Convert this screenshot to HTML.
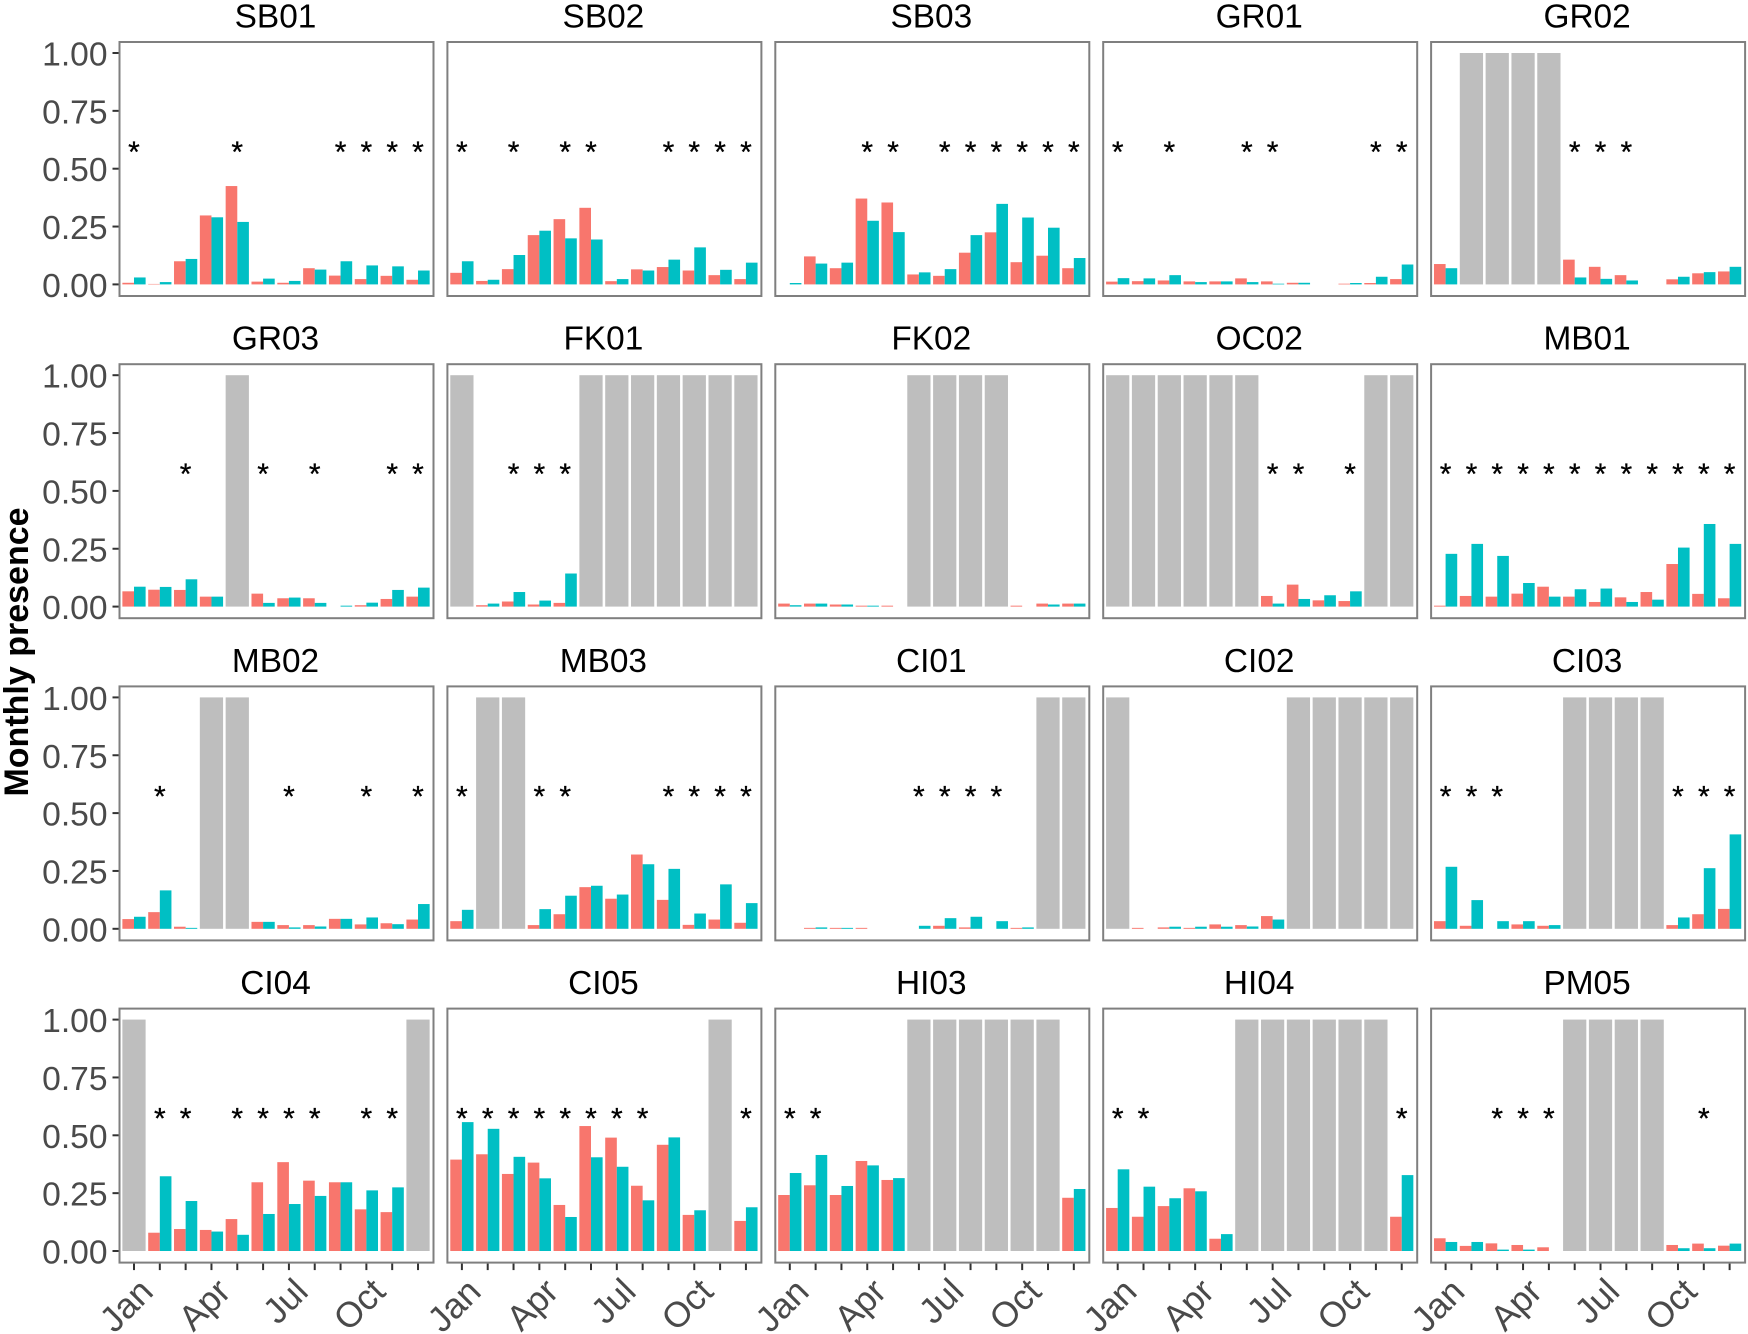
<!DOCTYPE html>
<html lang="en">
<head>
<meta charset="utf-8">
<title>Monthly presence by site</title>
<style>
html,body{margin:0;padding:0;background:#fff;}
svg{display:block;}
text{font-family:"Liberation Sans",sans-serif;}
</style>
</head>
<body>
<svg id="chart" xmlns="http://www.w3.org/2000/svg" width="1748" height="1334" viewBox="0 0 1748 1334">
<rect x="0" y="0" width="1748" height="1334" fill="#ffffff"/>
<text transform="translate(28,652) rotate(-90)" text-anchor="middle" font-size="34" font-weight="bold" fill="#000000">Monthly presence</text>
</svg>
<script>
const sites = ["SB01","SB02","SB03","GR01","GR02","GR03","FK01","FK02","OC02","MB01","MB02","MB03","CI01","CI02","CI03","CI04","CI05","HI03","HI04","PM05"];
const months = ["Jan","Feb","Mar","Apr","May","Jun","Jul","Aug","Sep","Oct","Nov","Dec"];
const xTickLabels = ["Jan","","","Apr","","","Jul","","","Oct","",""];
const yTicks = [0,0.25,0.5,0.75,1];
const yTickLabels = ["0.00","0.25","0.50","0.75","1.00"];
const grayValue = 1;
const starValue = 0.59;

const redSeries = [
[.007,.002,.10,.298,.425,.012,.007,.07,.038,.023,.037,.02],
[.05,.015,.066,.213,.282,.331,.014,.065,.075,.06,.04,.023],
[0,.121,.07,.371,.354,.043,.037,.137,.225,.096,.124,.07],
[.012,.014,.017,.013,.013,.026,.013,.007,0,.003,.006,.023],
[.088,0,0,0,0,.107,.076,.04,0,.022,.048,.056],
[.066,.073,.072,.043,0,.056,.036,.036,0,.006,.033,.043],
[0,.006,.022,.009,.016,0,0,0,0,0,0,0],
[.013,.013,.009,.004,.004,0,0,0,0,.004,.013,.013],
[0,0,0,0,0,0,.046,.095,.027,.024,0,0],
[.004,.046,.043,.056,.086,.043,.02,.04,.063,.184,.055,.036],
[.042,.072,.009,0,0,.03,.016,.016,.043,.019,.024,.04],
[.033,0,0,.016,.063,.18,.13,.321,.125,.017,.04,.026],
[0,.004,.004,.004,0,0,.013,.006,0,.004,0,0],
[0,.004,.006,.004,.019,.016,.055,0,0,0,0,0],
[.033,.013,0,.019,.013,0,0,0,0,.016,.063,.086],
[0,.079,.095,.091,.138,.297,.384,.304,.297,.18,.168,0],
[.395,.418,.333,.382,.199,.54,.49,.282,.459,.156,0,.13],
[.242,.284,.242,.389,.307,0,0,0,0,0,0,.23],
[.186,.148,.194,.271,.053,0,0,0,0,0,0,.148],
[.055,.022,.033,.026,.016,0,0,0,0,.026,.032,.023]
];
const tealSeries = [
[.03,.01,.11,.29,.27,.025,.015,.064,.10,.082,.078,.06],
[.10,.02,.127,.232,.199,.194,.023,.06,.107,.16,.063,.094],
[.006,.09,.094,.275,.226,.052,.066,.213,.348,.289,.245,.114],
[.027,.026,.04,.01,.013,.01,.003,.007,0,.006,.033,.086],
[.07,0,0,0,0,.03,.024,.017,0,.033,.053,.076],
[.086,.085,.118,.043,0,.016,.039,.016,.004,.017,.072,.082],
[0,.013,.063,.026,.143,0,0,0,0,0,0,0],
[.006,.013,.009,.004,0,0,0,0,0,0,.009,.013],
[0,0,0,0,0,0,.013,.033,.049,.066,0,0],
[.228,.271,.219,.102,.043,.075,.078,.02,.03,.255,.357,.271],
[.052,.166,.004,0,0,.03,.006,.01,.043,.049,.02,.107],
[.082,0,0,.085,.143,.186,.148,.279,.259,.066,.192,.111],
[0,.006,.004,0,0,.013,.046,.052,.033,.006,0,0],
[0,0,.009,.009,.009,.01,.04,0,0,0,0,0],
[.268,.124,.033,.033,.016,0,0,0,0,.049,.262,.408],
[0,.323,.216,.084,.07,.16,.203,.238,.297,.262,.275,0],
[.557,.528,.407,.314,.147,.405,.364,.219,.491,.176,0,.189],
[.337,.415,.281,.37,.315,0,0,0,0,0,0,.268],
[.353,.278,.228,.258,.073,0,0,0,0,0,0,.328],
[.039,.039,.006,.006,0,0,0,0,0,.012,.012,.032]
];
const grayMonths = [
[],[],[],[],["Feb","Mar","Apr","May"],
["May"],["Jan","Jun","Jul","Aug","Sep","Oct","Nov","Dec"],["Jun","Jul","Aug","Sep"],["Jan","Feb","Mar","Apr","May","Jun","Nov","Dec"],[],
["Apr","May"],["Feb","Mar"],["Nov","Dec"],["Jan","Aug","Sep","Oct","Nov","Dec"],["Jun","Jul","Aug","Sep"],
["Jan","Dec"],["Nov"],["Jun","Jul","Aug","Sep","Oct","Nov"],["Jun","Jul","Aug","Sep","Oct","Nov"],["Jun","Jul","Aug","Sep"]
];
const starMonths = [
["Jan","May","Sep","Oct","Nov","Dec"],
["Jan","Mar","May","Jun","Sep","Oct","Nov","Dec"],
["Apr","May","Jul","Aug","Sep","Oct","Nov","Dec"],
["Jan","Mar","Jun","Jul","Nov","Dec"],
["Jun","Jul","Aug"],
["Mar","Jun","Aug","Nov","Dec"],
["Mar","Apr","May"],
[],
["Jul","Aug","Oct"],
["Jan","Feb","Mar","Apr","May","Jun","Jul","Aug","Sep","Oct","Nov","Dec"],
["Feb","Jul","Oct","Dec"],
["Jan","Apr","May","Sep","Oct","Nov","Dec"],
["Jun","Jul","Aug","Sep"],
[],
["Jan","Feb","Mar","Oct","Nov","Dec"],
["Feb","Mar","May","Jun","Jul","Aug","Oct","Nov"],
["Jan","Feb","Mar","Apr","May","Jun","Jul","Aug","Dec"],
["Jan","Feb"],
["Jan","Feb","Dec"],
["Mar","Apr","May","Nov"]
];

const svg = document.getElementById('chart');
const NS = 'http://www.w3.org/2000/svg';
const panelW = 314, panelH = 254, unit = 25.82, xPad = 14.5, yScale = 231.4, barFrac = 0.9;
const RED = '#F8766D', TEAL = '#00BFC4', GRAY = '#BEBEBE';

function make(tag, attrs, parent){
  const el = document.createElementNS(NS, tag);
  for(const k in attrs){ el.setAttribute(k, attrs[k]); }
  (parent || svg).appendChild(el);
  return el;
}
function panelLeft(col){ return 119.5 + col * 327.9; }
function baseline(row){ return 284.4 + row * 322.2; }
function xScale(col, monthIndex){ return panelLeft(col) + xPad + monthIndex * unit; }
function yAxis(row, v){ return baseline(row) - v * yScale; }

sites.forEach(function(site, i){
  const col = i % 5, row = Math.floor(i / 5);
  const left = panelLeft(col), y0 = baseline(row);
  const top = y0 - 242.4;

  const g = make('g', {});
  
  

  const title = make('text', {x: left + panelW / 2 - 1, y: top - 14.5, 'text-anchor': 'middle', 'font-size': 33.4, fill: '#000000'}, g);
  title.textContent = site;
  
  

  const bg = make('rect', {x: left, y: top, width: panelW, height: panelH, fill: '#ffffff'}, g);
  
  

  months.forEach(function(m, k){
    const cx = xScale(col, k), w = unit * barFrac;
    if(grayMonths[i].indexOf(m) >= 0){
      const gb = make('rect', {x: cx - w / 2, y: yAxis(row, grayValue), width: w, height: y0 - yAxis(row, grayValue), fill: GRAY}, g);
      
      
      return;
    }
    const rv = redSeries[i][k], tv = tealSeries[i][k];
    const rb = make('rect', {x: cx - w / 2, y: yAxis(row, rv), width: w / 2, height: y0 - yAxis(row, rv), fill: RED}, g);
    
    
    const tb = make('rect', {x: cx, y: yAxis(row, tv), width: w / 2, height: y0 - yAxis(row, tv), fill: TEAL}, g);
    
    
  });

  starMonths[i].forEach(function(m){
    const k = months.indexOf(m);
    const s = make('text', {x: xScale(col, k), y: yAxis(row, starValue) + 14, 'text-anchor': 'middle', 'font-size': 30, fill: '#000000', stroke: '#000000', 'stroke-width': 0.3}, g);
    s.textContent = '*';
    
    
  });

  const border = make('rect', {x: left, y: top, width: panelW, height: panelH, fill: 'none', stroke: '#7F7F7F', 'stroke-width': 2}, g);
  
  

  if(col === 0){
    yTicks.forEach(function(v, n){
      const ty = yAxis(row, v);
      const t = make('line', {x1: left - 7, x2: left - 1, y1: ty, y2: ty, stroke: '#333333', 'stroke-width': 2}, g);
      
      
      const lb = make('text', {x: left - 12, y: ty + 12.5, 'text-anchor': 'end', 'font-size': 33.6, fill: '#4A4A4A'}, g);
      lb.textContent = yTickLabels[n];
      
      
    });
  }
  if(row === 3){
    months.forEach(function(m, k){
      const tx = xScale(col, k);
      const t = make('line', {x1: tx, x2: tx, y1: top + panelH + 1, y2: top + panelH + 7.5, stroke: '#333333', 'stroke-width': 2}, g);
      
      
      if(xTickLabels[k]){
        const ax = tx + 21, ay = top + panelH + 31;
        const lb = make('text', {x: ax, y: ay, 'text-anchor': 'end', 'font-size': 35.5, fill: '#4A4A4A', transform: 'rotate(-45 ' + ax + ' ' + ay + ')'}, g);
        lb.textContent = xTickLabels[k];
        
        
      }
    });
  }
});
</script>
</body>
</html>
